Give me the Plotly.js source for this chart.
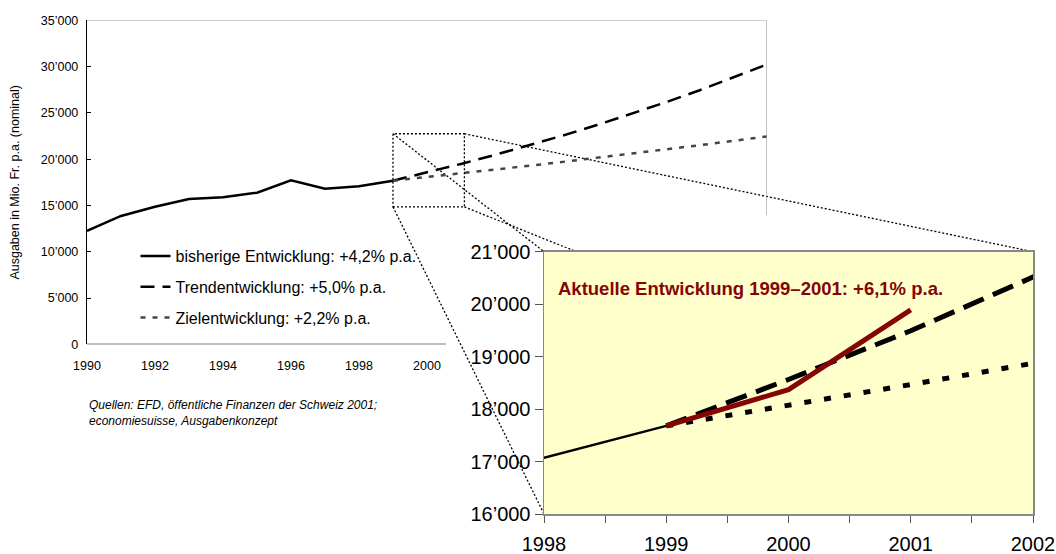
<!DOCTYPE html>
<html><head><meta charset="utf-8">
<script src="https://cdn.plot.ly/plotly-3.0.1.min.js"></script>
<style>html,body{margin:0;padding:0;background:#fff}#chart{width:1056px;height:554px}</style>
</head><body><div id="chart"></div>
<script>
// ---- data ----
const histYears = [1990,1991,1992,1993,1994,1995,1996,1997,1998,1999];
const histValues = [12270,13870,14870,15700,15890,16380,17720,16820,17070,17680];
const projYears = [1999,2000,2001,2002,2003,2004,2005,2006,2007,2008,2009,2010];
const trendValues = [17680,18564,19492,20467,21490,22565,23693,24878,26122,27428,28799,30239];
const targetValues = [17680,18069,18467,18873,19288,19713,20146,20590,21043,21505,21978,22462];
const actualYears = [1999,2000,2001];
const actualValues = [17680,18370,19890];
const seriesNames = ['bisherige Entwicklung: +4,2% p.a.','Trendentwicklung: +5,0% p.a.','Zielentwicklung: +2,2% p.a.'];
const mainYTicks = [0,5000,10000,15000,20000,25000,30000,35000];
const mainYTickText = ['0','5’000','10’000','15’000','20’000','25’000','30’000','35’000'];
const mainXTicks = [1990,1992,1994,1996,1998,2000];
const insetYTicks = [16000,17000,18000,19000,20000,21000];
const insetYTickText = ['16’000','17’000','18’000','19’000','20’000','21’000'];
const insetXTicks = [1998,1999,2000,2001,2002];
const insetTitle = 'Aktuelle Entwicklung 1999–2001: +6,1% p.a.';
const sourceText = 'Quellen: EFD, öffentliche Finanzen der Schweiz 2001;<br>economiesuisse, Ausgabenkonzept';
const yTitle = 'Ausgaben in Mio. Fr. p.a. (nominal)';

// ---- layout geometry ----
const W = 1056, H = 554;
const FONT = 'Liberation Sans, Arial, sans-serif';
const mainDomX = [87/W, 767/W], mainDomY = [1-344.3/H, 1-20.4/H];
const insetDomX = [544/W, 1033/W], insetDomY = [1-514/H, 1-251.7/H];
const mainXR = [1990, 2010], mainYR = [0, 35000];
const insetXR = [1998, 2002], insetYR = [16000, 21000];
const zoomBox = {x0: 1999, x1: 2001.1, y0: 14850, y1: 22750};

const px = v => mainDomX[0] + (v-mainXR[0])/(mainXR[1]-mainXR[0])*(mainDomX[1]-mainDomX[0]);
const py = v => mainDomY[0] + (v-mainYR[0])/(mainYR[1]-mainYR[0])*(mainDomY[1]-mainDomY[0]);
const ix = f => insetDomX[0] + f*(insetDomX[1]-insetDomX[0]);
const iy = f => insetDomY[0] + f*(insetDomY[1]-insetDomY[0]);

const RED = '#850505';
const traces = [
  {x: histYears, y: histValues, name: seriesNames[0], legendgroup: 'h', mode: 'lines',
   line: {color: '#000', width: 2.5}, xaxis: 'x', yaxis: 'y'},
  {x: projYears, y: trendValues, name: seriesNames[1], legendgroup: 't', mode: 'lines',
   line: {color: '#000', width: 2.5, dash: '14px,8px'}, xaxis: 'x', yaxis: 'y'},
  {x: projYears, y: targetValues, name: seriesNames[2], legendgroup: 'z', mode: 'lines',
   line: {color: '#444', width: 2.5, dash: '5px,7px'}, xaxis: 'x', yaxis: 'y'},
  // inset
  {x: histYears, y: histValues, showlegend: false, mode: 'lines', hoverinfo: 'skip',
   line: {color: '#000', width: 2.5}, xaxis: 'x2', yaxis: 'y2'},
  {x: projYears, y: trendValues, showlegend: false, mode: 'lines',
   line: {color: '#000', width: 5, dash: '22px,10px'}, xaxis: 'x2', yaxis: 'y2'},
  {x: projYears, y: targetValues, showlegend: false, mode: 'lines',
   line: {color: '#000', width: 5, dash: '7px,13px'}, xaxis: 'x2', yaxis: 'y2'},
  {x: actualYears, y: actualValues, name: 'Aktuelle Entwicklung', showlegend: false, mode: 'lines',
   line: {color: RED, width: 5}, xaxis: 'x2', yaxis: 'y2'}
];

const dotLine = {color: '#000', width: 1.3, dash: '2px,2px'};
const shapes = [
  // main frame (top/right gray, bottom black partial)
  {type: 'line', xref: 'x', yref: 'y', x0: 1990, x1: 2010, y0: 35000, y1: 35000, line: {color: '#999', width: 1.2}},
  {type: 'line', xref: 'x', yref: 'y', x0: 2010, x1: 2010, y0: 35000, y1: 13970, line: {color: '#999', width: 1.2}},
  {type: 'line', xref: 'x', yref: 'y', x0: 1990, x1: 2000.56, y0: 0, y1: 0, line: {color: '#000', width: 1.2}},
  // zoom box
  {type: 'rect', xref: 'x', yref: 'y', x0: zoomBox.x0, x1: zoomBox.x1, y0: zoomBox.y0, y1: zoomBox.y1,
   line: dotLine, layer: 'above'},
  // connectors
  {type: 'line', xref: 'paper', yref: 'paper', x0: px(zoomBox.x0), y0: py(zoomBox.y1), x1: ix(0), y1: iy(1), line: dotLine, layer: 'below'},
  {type: 'line', xref: 'paper', yref: 'paper', x0: px(zoomBox.x1), y0: py(zoomBox.y1), x1: ix(1), y1: iy(1), line: dotLine, layer: 'below'},
  {type: 'line', xref: 'paper', yref: 'paper', x0: px(zoomBox.x0), y0: py(zoomBox.y0), x1: ix(0), y1: iy(0), line: dotLine, layer: 'below'},
  {type: 'line', xref: 'paper', yref: 'paper', x0: px(zoomBox.x1), y0: py(zoomBox.y0), x1: ix(0.12), y1: iy(0.96), line: dotLine, layer: 'below'},
  // inset background
  {type: 'rect', xref: 'x2 domain', yref: 'y2 domain', x0: 0, x1: 1, y0: 0, y1: 1,
   fillcolor: '#FFFFCC', line: {width: 0}, layer: 'below'}
];

const layout = {
  width: W, height: H,
  margin: {l: 0, r: 0, t: 0, b: 0},
  paper_bgcolor: '#fff', plot_bgcolor: 'rgba(0,0,0,0)',
  font: {family: FONT, color: '#000'},
  showlegend: true,
  legend: {x: 135.5/W, y: 1-239/H, xanchor: 'left', yanchor: 'top', bgcolor: 'rgba(0,0,0,0)',
           font: {size: 16, family: FONT}, tracegroupgap: 7, itemwidth: 30},
  xaxis: {domain: mainDomX, range: mainXR, tickvals: mainXTicks, ticks: '', showgrid: false, zeroline: false,
          showline: false, tickfont: {size: 12.5}, ticklabelstandoff: 12, anchor: 'y'},
  yaxis: {domain: mainDomY, range: mainYR, tickvals: mainYTicks, ticktext: mainYTickText, ticks: 'inside',
          ticklen: 4, tickcolor: '#000', showgrid: false, zeroline: false, showline: true, linecolor: '#000',
          linewidth: 1.2, tickfont: {size: 12.5}, ticklabelstandoff: 5, anchor: 'x',
          title: {text: yTitle, font: {size: 12.5}, standoff: 18}},
  xaxis2: {domain: insetDomX, range: insetXR, tickvals: insetXTicks, ticks: 'outside', ticklen: 7,
           tickcolor: '#555', showgrid: false, zeroline: false, showline: true, linecolor: '#888',
           linewidth: 1.5, mirror: true, tickfont: {size: 20}, ticklabelstandoff: 4, anchor: 'y2',
           minor: {dtick: 0.5, tick0: 1998, ticks: 'outside', ticklen: 7, tickcolor: '#555'}},
  yaxis2: {domain: insetDomY, range: insetYR, tickvals: insetYTicks, ticktext: insetYTickText, ticks: 'outside',
           ticklen: 8, tickcolor: '#555', showgrid: false, zeroline: false, showline: true, linecolor: '#888',
           linewidth: 1.5, mirror: true, tickfont: {size: 20}, anchor: 'x2'},
  shapes: shapes,
  annotations: [
    {xref: 'x2 domain', yref: 'y2 domain', x: 0.025, y: 0.858, xanchor: 'left', yanchor: 'middle',
     text: '<b>' + insetTitle + '</b>', showarrow: false, font: {size: 18.5, color: RED, family: FONT}},
    {xref: 'paper', yref: 'paper', x: 87/W, y: 1-396/H, xanchor: 'left', yanchor: 'top', align: 'left',
     text: '<i>' + sourceText + '</i>', showarrow: false, font: {size: 12, family: FONT, color: '#000'}}
  ]
};

Plotly.newPlot('chart', traces, layout, {displayModeBar: false, staticPlot: true});
</script>
</body></html>
